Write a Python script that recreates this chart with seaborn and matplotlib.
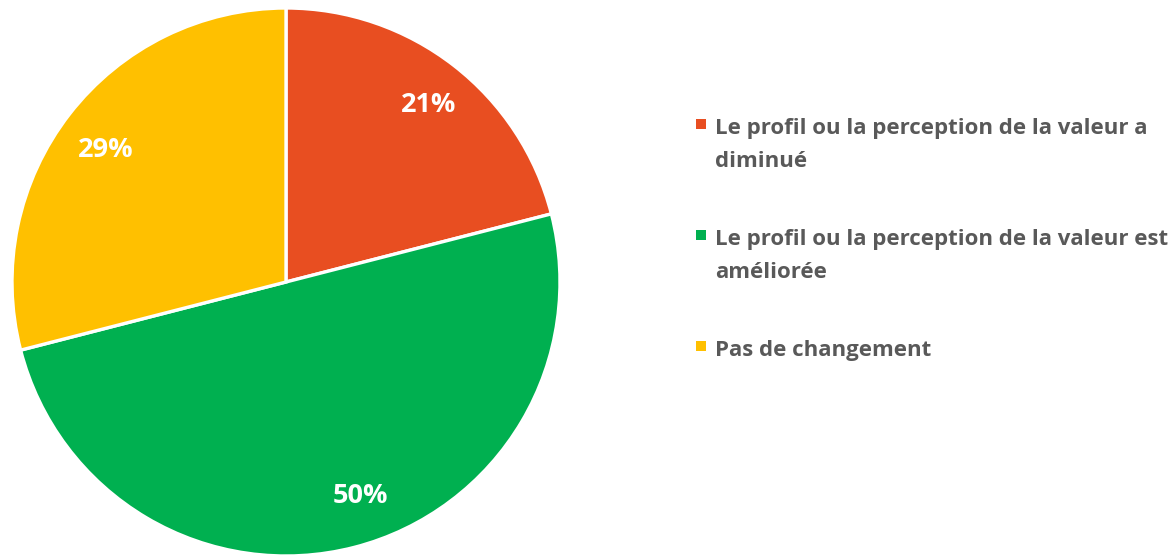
import matplotlib
matplotlib.use("Agg")
import matplotlib.pyplot as plt
import matplotlib.transforms as mtransforms
import seaborn as sns
from matplotlib.patches import Rectangle

categories = [
    "Le profil ou la perception de la valeur a diminué",
    "Le profil ou la perception de la valeur est améliorée",
    "Pas de changement",
]
legend_labels = [
    "Le profil ou la perception de la valeur a\ndiminué",
    "Le profil ou la perception de la valeur est\naméliorée",
    "Pas de changement",
]
values = [21, 50, 29]
colors = ["#E84E21", "#00B050", "#FFC000"]

sns.set_theme(style="white")
plt.rcParams["font.family"] = ["Open Sans", "DejaVu Sans"]

W, H = 1172, 555
fig = plt.figure(figsize=(W / 100, H / 100), dpi=100)
fig.patch.set_facecolor("white")

cx, cy, r = 286, 282, 274
ax = fig.add_axes([(cx - r) / W, (H - cy - r) / H, 2 * r / W, 2 * r / H])
wedges, texts, autotexts = ax.pie(
    values,
    colors=colors,
    startangle=90,
    counterclock=False,
    radius=1,
    autopct=lambda p: f"{p:.0f}%",
    pctdistance=0.82,
    wedgeprops=dict(edgecolor="white", linewidth=2.4),
    textprops=dict(color="white", fontsize=19.5, fontweight="bold"),
)
# small label nudges (in pixels) to mimic the "best fit" placement of the original
nudges = [(5, -1), (19, 4), (-3, -6)]
for t, (dx, dy) in zip(autotexts, nudges):
    t.set_transform(t.get_transform() + mtransforms.Affine2D().translate(dx, dy))

ax.set_xlim(-1, 1)
ax.set_ylim(-1, 1)
ax.set_aspect("equal")
ax.axis("off")

# manual legend (handle aligned with the first line of each label)
text_color = "#595959"
first_baseline = 134
step = 111
for i, (lab, col) in enumerate(zip(legend_labels, colors)):
    base = first_baseline + i * step
    fig.patches.append(
        Rectangle((696 / W, (H - base + 5) / H), 10 / W, 10 / H,
                  transform=fig.transFigure, facecolor=col, edgecolor="none")
    )
    lines = lab.split("\n")
    for j, line in enumerate(lines):
        fig.text(715 / W, (H - base - j * 33) / H, line, color=text_color,
                 fontsize=16, fontweight="bold", ha="left", va="baseline")

fig.savefig("out.png", dpi=100, facecolor="white")
